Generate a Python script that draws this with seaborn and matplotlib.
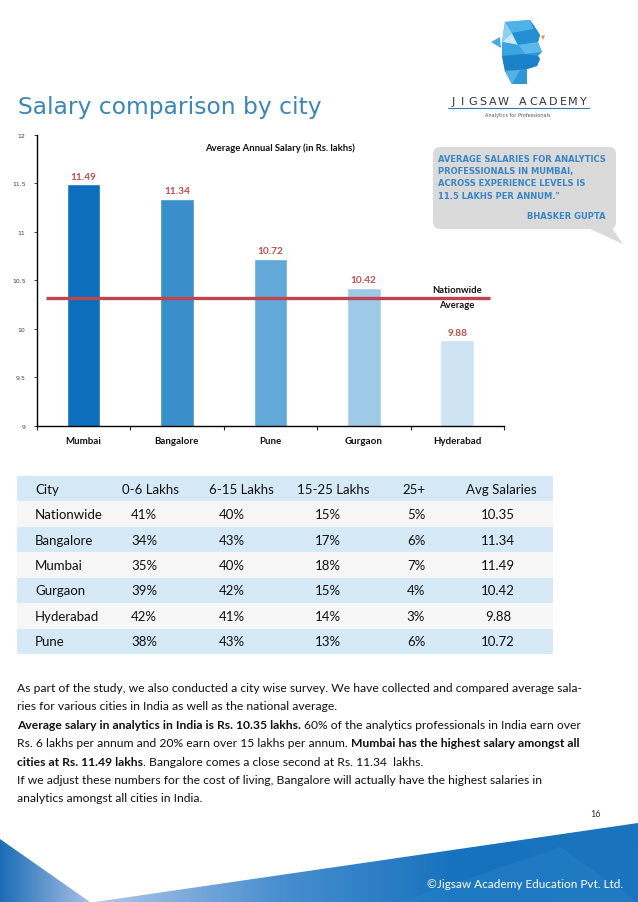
import matplotlib
matplotlib.use('Agg')
import matplotlib.pyplot as plt
import seaborn as sns
import pandas as pd
import numpy as np
from matplotlib import font_manager
from matplotlib.patches import Polygon, Rectangle, FancyBboxPatch
from matplotlib.colors import LinearSegmentedColormap

# table data
table_header = ['City', '0-6 Lakhs', '6-15 Lakhs', '15-25 Lakhs', '25+', 'Avg Salaries']
table_cities = ['Nationwide', 'Bangalore', 'Mumbai', 'Gurgaon', 'Hyderabad', 'Pune']
share_0_6 = [41, 34, 35, 39, 42, 38]
share_6_15 = [40, 43, 40, 42, 41, 43]
share_15_25 = [15, 17, 18, 15, 14, 13]
share_25_plus = [5, 6, 7, 4, 3, 6]
avg_salaries = [10.35, 11.34, 11.49, 10.42, 9.88, 10.72]

# chart data
chart_cities = ['Mumbai', 'Bangalore', 'Pune', 'Gurgaon', 'Hyderabad']
nationwide_line = 10.32
y_ticks = [9, 9.5, 10, 10.5, 11, 11.5, 12]
y_tick_labels = ['9', '9.5', '10', '10.5', '11', '11.5', '12']
bar_colors = ['#0b6fbd', '#3a8fcb', '#62a8d9', '#9ec9e7', '#cfe4f3']

salary_of = dict(zip(table_cities, avg_salaries))
chart_salaries = [salary_of[c] for c in chart_cities]

sns.set_style('white')

installed = {f.name for f in font_manager.fontManager.ttflist}
NARROW = 'Liberation Sans Narrow' if 'Liberation Sans Narrow' in installed else 'Lato'

W, H = 638, 903
fig = plt.figure(figsize=(W / 100, H / 100), dpi=100)
page = fig.add_axes([0, 0, 1, 1], zorder=0)
page.axis('off')
renderer = fig.canvas.get_renderer()


def text_width(s, **kw):
    t = page.text(0, 0, s, **kw)
    w = t.get_window_extent(renderer).width
    t.remove()
    return w


def fit_size(s, target, family, weight='normal'):
    return 10 * target / text_width(s, fontsize=10, family=family, fontweight=weight)


def draw_rich(x, y, pieces, size, family, color):
    for s, bold in pieces:
        wt = 'bold' if bold else 'normal'
        sp = text_width('a a', fontsize=size, family=family, fontweight=wt) - \
            text_width('aa', fontsize=size, family=family, fontweight=wt)
        lead = len(s) - len(s.lstrip(' '))
        trail = len(s) - len(s.rstrip(' '))
        x += lead * sp
        t = page.text(x, y, s.strip(' '), fontsize=size, family=family, fontweight=wt,
                      color=color, va='baseline', ha='left')
        x += t.get_window_extent(renderer).width + trail * sp


def grad_poly(verts, colors, x0, x1, y0, y1):
    poly = Polygon(verts, closed=True, fc='none', ec='none')
    page.add_patch(poly)
    cmap = LinearSegmentedColormap.from_list('g', colors)
    grad = np.linspace(0, 1, 256).reshape(1, -1)
    im = page.imshow(grad, cmap=cmap, extent=(x0, x1, y1, y0), aspect='auto', zorder=1)
    im.set_clip_path(poly)


# title
title = 'Salary comparison by city'
page.text(18, 114, title, fontsize=fit_size(title, 304, 'DejaVu Sans'), family='DejaVu Sans',
          color='#3a86bd', va='baseline')

# logo
head = [(505, 23), (530, 21), (540, 36), (538, 43), (542, 53), (538, 57), (540, 60), (537, 67),
        (527, 70), (527, 85), (512, 85), (505, 72), (502, 57), (502, 43)]
page.add_patch(Polygon(head, fc='#2a9ad8', ec='none'))
facets = [
    ([(505, 23), (530, 21), (534, 30), (512, 34)], '#4fb2e8'),
    ([(530, 21), (540, 36), (534, 30)], '#1c80c8'),
    ([(502, 43), (505, 23), (512, 34)], '#8fd0f2'),
    ([(502, 43), (512, 34), (518, 46)], '#c6e8f8'),
    ([(512, 34), (534, 30), (540, 36), (538, 43), (518, 46)], '#2490d4'),
    ([(518, 46), (538, 43), (542, 53), (525, 55)], '#5bb8ea'),
    ([(502, 43), (518, 46), (525, 55), (502, 57)], '#3aa4e0'),
    ([(502, 57), (525, 55), (538, 57), (540, 60), (537, 67), (527, 70), (505, 72)], '#1b82c9'),
    ([(505, 72), (527, 70), (527, 85), (512, 85)], '#2f97d8'),
    ([(505, 72), (520, 71), (512, 85)], '#55b0e6'),
    ([(491, 43), (500, 38), (501, 49)], '#45a9e2'),
    ([(541, 37), (545, 36), (543, 41)], '#e8912d'),
]
for pts, c in facets:
    page.add_patch(Polygon(pts, fc=c, ec='none'))
for i, ch in enumerate('JIGSAW ACADEMY'):
    page.text(448 + (i + 0.5) * 10, 105, ch, fontsize=8, family='DejaVu Sans',
              color='#333333', ha='center', va='baseline')
page.plot([448, 589], [109, 109], color='#3a78b5', lw=0.8)
page.text(518, 116, 'Analytics for Professionals', fontsize=3.6, ha='center', va='center',
          color='#555555', family='DejaVu Sans')

# bar chart
ax = fig.add_axes([36.7 / W, 1 - 426.7 / H, 467.3 / W, 291 / H], zorder=2)
ax.patch.set_alpha(0)
df = pd.DataFrame({'city': chart_cities, 'salary': chart_salaries})
sns.barplot(data=df, x='city', y='salary', hue='city', palette=bar_colors, width=0.36,
            saturation=1, legend=False, ax=ax)
ax.set_ylim(9, 12)
ax.set_xlim(-0.5, 4.5)
ax.set_xlabel('')
ax.set_ylabel('')
ax.set_yticks(y_ticks)
ax.set_yticklabels(y_tick_labels, fontsize=4.5, color='#444444', family='DejaVu Sans')
ax.set_xticks(range(len(chart_cities)))
ax.set_xticklabels(chart_cities, fontsize=7, fontweight='bold', family='Lato', color='#111111')
ax.set_xticks(np.arange(-0.5, len(chart_cities), 1), minor=True)
ax.tick_params(axis='y', length=2, width=0.6, pad=6, left=True)
ax.tick_params(axis='x', which='major', length=0, pad=7.5)
ax.tick_params(axis='x', which='minor', length=3, width=0.8, bottom=True)
for s in ['top', 'right']:
    ax.spines[s].set_visible(False)
for s in ['left', 'bottom']:
    ax.spines[s].set_color('black')
    ax.spines[s].set_linewidth(1)
for c in ax.containers:
    ax.bar_label(c, fmt='%.2f', padding=2.5, fontsize=7.3, fontweight='bold', color='#c0504d',
                 family='Lato')
ax.hlines(nationwide_line, -0.4, 4.35, color='#bf4450', lw=2.4, zorder=3)

ctitle = 'Average Annual Salary (in Rs. lakhs)'
page.text(280, 148, ctitle, fontsize=fit_size(ctitle, 150, 'Lato', 'bold'), fontweight='bold',
          family='Lato', ha='center', va='center', color='#111111')
page.text(457, 291, 'Nationwide', fontsize=6.8, fontweight='bold', family='Lato',
          ha='center', va='center', color='#111111')
page.text(457, 305.7, 'Average', fontsize=6.8, fontweight='bold', family='Lato',
          ha='center', va='center', color='#111111')

# quote bubble
page.add_patch(FancyBboxPatch((433, 148), 183, 82, boxstyle='round,pad=0,rounding_size=7',
                              fc='#dadada', ec='none', zorder=1))
page.add_patch(Polygon([(588, 229), (612, 229), (623, 245)], fc='#dadada', ec='none', zorder=1))
quote = ['AVERAGE SALARIES FOR ANALYTICS', 'PROFESSIONALS IN MUMBAI,',
         'ACROSS EXPERIENCE LEVELS IS', '11.5 LAKHS PER ANNUM."']
qsize = fit_size(quote[0], 168, 'DejaVu Sans', 'bold')
for i, line in enumerate(quote):
    page.text(438, 159 + 12.4 * i, line, fontsize=qsize, fontweight='bold', family='DejaVu Sans',
              color='#3b86c4', va='center', zorder=2)
page.text(606, 217, 'BHASKER GUPTA', fontsize=qsize, fontweight='bold', family='DejaVu Sans',
          color='#3b86c4', va='center', ha='right', zorder=2)

# table
row_h = 25.43
top = 477
tsize = fit_size('Avg Salaries', 70, NARROW)
head_x = [150, 241, 333, 414, 501]
val_x = [144, 232, 328, 416, 498]
page.add_patch(Rectangle((17, top), 536, row_h, fc='#d6e9f7', ec='none'))
page.text(35, top + row_h / 2, table_header[0], fontsize=tsize, family=NARROW, va='center',
          color='#111111')
for x, h in zip(head_x, table_header[1:]):
    page.text(x, top + row_h / 2, h, fontsize=tsize, family=NARROW, va='center', ha='center',
              color='#111111')
for i, city in enumerate(table_cities):
    y0 = top + row_h * (i + 1)
    page.add_patch(Rectangle((17, y0), 536, row_h, fc='#f6f6f6' if i % 2 == 0 else '#d6e9f7',
                             ec='none'))
    cells = ['%d%%' % share_0_6[i], '%d%%' % share_6_15[i], '%d%%' % share_15_25[i],
             '%d%%' % share_25_plus[i], '%.2f' % avg_salaries[i]]
    page.text(35, y0 + row_h / 2, city, fontsize=tsize, family=NARROW, va='center', color='#111111')
    for x, v in zip(val_x, cells):
        page.text(x, y0 + row_h / 2, v, fontsize=tsize, family=NARROW, va='center', ha='center',
                  color='#111111')

# body text
body = [
    [("As part of the study, we also conducted a city wise survey. We have collected and compared average sala-", False)],
    [("ries for various cities in India as well as the national average.", False)],
    [("Average salary in analytics in India is Rs. 10.35 lakhs.", True),
     (" 60% of the analytics professionals in India earn over", False)],
    [("Rs. 6 lakhs per annum and 20% earn over 15 lakhs per annum. ", False),
     ("Mumbai has the highest salary amongst all", True)],
    [("cities at Rs. 11.49 lakhs", True), (". Bangalore comes a close second at Rs. 11.34  lakhs.", False)],
    [("If we adjust these numbers for the cost of living, Bangalore will actually have the highest salaries in", False)],
    [("analytics amongst all cities in India.", False)],
]
bsize = fit_size(body[0][0][0], 563, NARROW)
for i, pieces in enumerate(body):
    draw_rich(17, 692 + 18.4 * i, pieces, bsize, NARROW, '#111111')

page.text(596, 815, '16', fontsize=6.5, family=NARROW, ha='center', va='center', color='#333333')

# footer
grad_poly([(0, 840), (0, H), (90, H)], ['#1b6db6', '#a8c0e6'], 0, 90, 840, H)
grad_poly([(95, H), (W, 824), (W, H)], ['#b0c8ea', '#4a8fd0', '#1672bd', '#1b74be'], 95, W, 824, H)
page.add_patch(Polygon([(400, H), (560, 848), (W, H)], fc='#2f8ccf', ec='none', alpha=0.3, zorder=1.5))
foot = '\u00a9Jigsaw Academy Education Pvt. Ltd.'
page.text(623, 885, foot, fontsize=fit_size(foot, 195, 'Lato'), family='Lato', color='white',
          ha='right', va='center', zorder=3)

page.set_xlim(0, W)
page.set_ylim(H, 0)

fig.savefig('out.png', dpi=100)
